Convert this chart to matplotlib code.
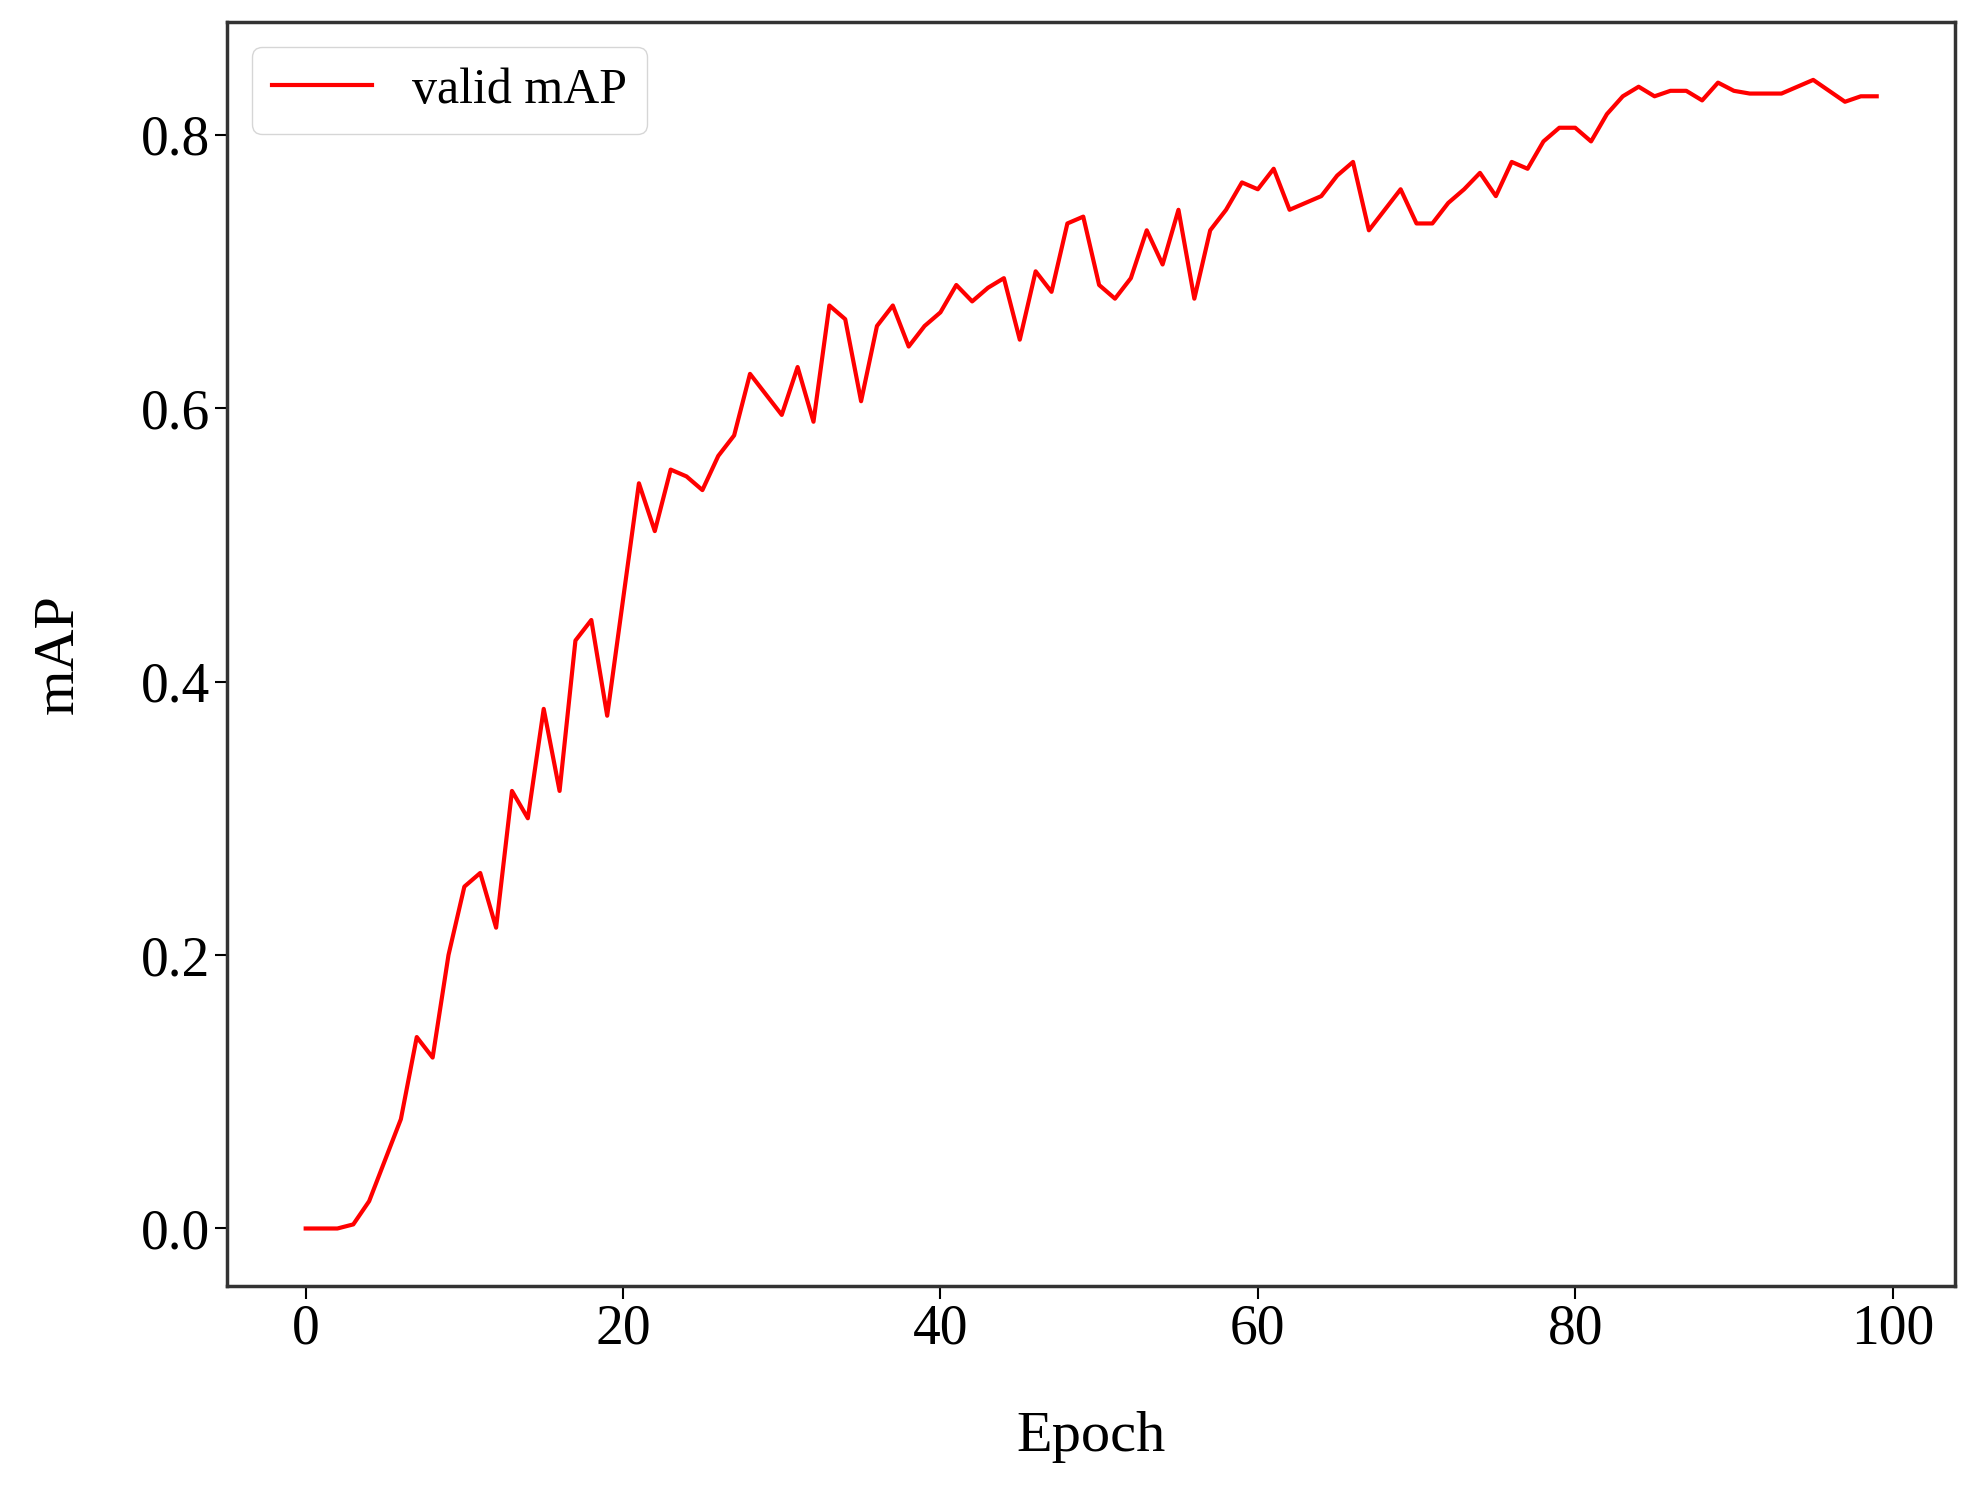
import matplotlib
matplotlib.use("Agg")
import matplotlib.pyplot as plt
import numpy as np

epochs = np.arange(100)
valid_map = [
    0.0, 0.0, 0.0, 0.003, 0.02, 0.05, 0.08, 0.14, 0.125, 0.2,
    0.25, 0.26, 0.22, 0.32, 0.3, 0.38, 0.32, 0.43, 0.445, 0.375,
    0.46, 0.545, 0.51, 0.555, 0.55, 0.54, 0.565, 0.58, 0.625, 0.61,
    0.595, 0.63, 0.59, 0.675, 0.665, 0.605, 0.66, 0.675, 0.645, 0.66,
    0.67, 0.69, 0.678, 0.688, 0.695, 0.65, 0.7, 0.685, 0.735, 0.74,
    0.69, 0.68, 0.695, 0.73, 0.705, 0.745, 0.68, 0.73, 0.745, 0.765,
    0.76, 0.775, 0.745, 0.75, 0.755, 0.77, 0.78, 0.73, 0.745, 0.76,
    0.735, 0.735, 0.75, 0.76, 0.772, 0.755, 0.78, 0.775, 0.795, 0.805,
    0.805, 0.795, 0.815, 0.828, 0.835, 0.828, 0.832, 0.832, 0.825, 0.838,
    0.832, 0.83, 0.83, 0.83, 0.835, 0.84, 0.832, 0.824, 0.828, 0.828,
]

plt.rcParams['font.family'] = ['Liberation Serif', 'DejaVu Serif']

fig = plt.figure(figsize=(19.75, 14.97), dpi=100)
ax = fig.add_axes([0.115, 0.141, 0.875, 0.844])
ax.plot(epochs, valid_map, color='red', linewidth=3, label='valid mAP')
ax.set_xticks([0, 20, 40, 60, 80, 100])
ax.set_yticks([0.0, 0.2, 0.4, 0.6, 0.8])
ax.set_yticklabels(['0.0', '0.2', '0.4', '0.6', '0.8'])
ax.tick_params(labelsize=40, length=9, width=1.5)
ax.set_xlabel('Epoch', fontsize=42, labelpad=40)
ax.set_ylabel('mAP', fontsize=42, labelpad=40)
for s in ax.spines.values():
    s.set_linewidth(2.5)
    s.set_color('#333333')
ax.legend(loc='upper left', fontsize=36, handlelength=2)
fig.savefig('out.png', dpi=100)
